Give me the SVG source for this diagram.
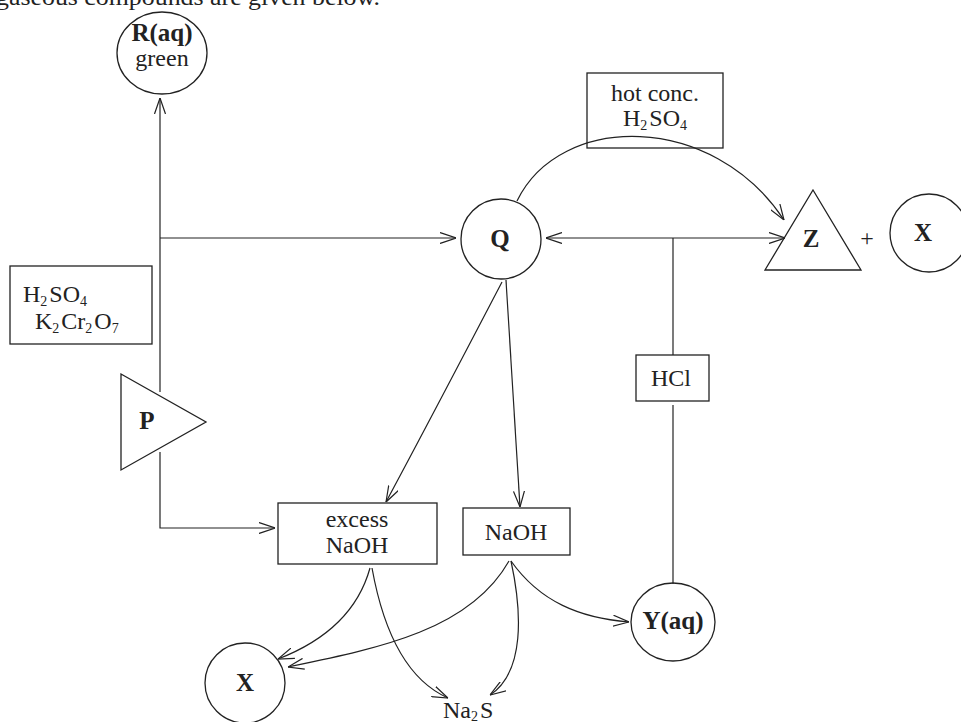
<svg xmlns="http://www.w3.org/2000/svg" width="961" height="722" viewBox="0 0 961 722">
<defs>
<marker id="arr" viewBox="0 0 16 12" refX="16" refY="6" markerWidth="16" markerHeight="12" markerUnits="userSpaceOnUse" orient="auto-start-reverse">
<path d="M0,0.5 L16,6 L0,11.5" fill="none" stroke="#222" stroke-width="1.2"/>
</marker>
<style>
text{font-family:"Liberation Serif","Times New Roman",serif;fill:#222;font-size:24px}
.b{font-weight:bold;font-size:25px}
.m{text-anchor:middle}
.s{font-size:14px}
.shape{fill:none;stroke:#222;stroke-width:1.3}
.c{fill:none;stroke:#222;stroke-width:1.2}
.a{fill:none;stroke:#222;stroke-width:1.2;marker-end:url(#arr)}
</style>
</defs>
<rect width="961" height="722" fill="#fff"/>
<text x="-4" y="5" font-size="26" textLength="384" lengthAdjust="spacingAndGlyphs">gaseous compounds are given below.</text>

<g id="connectors">
<path class="a" d="M160,392 L160,98"/>
<path class="a" d="M160,238 L456,238"/>
<path class="a" d="M160,452 L160,528 L275,528"/>
<path class="a" d="M517,201 C560,112 713,112 784,220"/>
<path class="a" d="M546,238 L785,238" style="marker-start:url(#arr)"/>
<path class="c" d="M673,238 L673,355"/>
<path class="c" d="M673,405 L673,584"/>
<path class="a" d="M502,282 Q430,420 386,502"/>
<path class="a" d="M506,280 L520,507"/>
<path class="a" d="M370,568 C357,615 322,642 278,659"/>
<path class="a" d="M372,568 C385,640 412,682 448,698"/>
<path class="a" d="M509,561 C470,630 380,648 288,667"/>
<path class="a" d="M511,561 C522,612 525,672 490,695"/>
<path class="a" d="M511,561 C540,602 580,618 629,622"/>
</g>

<g id="R">
<ellipse class="shape" cx="162" cy="53" rx="45" ry="41"/>
<text class="b m" x="162" y="41" font-size="22">R(aq)</text>
<text class="m" x="162" y="66" font-size="22">green</text>
</g>

<g id="reagent-dichromate">
<rect class="shape" x="10" y="266" width="142" height="78"/>
<text x="23" y="302">H<tspan class="s" dy="4">2</tspan><tspan dx="2" dy="-4">SO</tspan><tspan class="s" dy="4">4</tspan></text>
<text x="35" y="329">K<tspan class="s" dy="4">2</tspan><tspan dx="2" dy="-4">Cr</tspan><tspan class="s" dy="4">2</tspan><tspan dx="2" dy="-4">O</tspan><tspan class="s" dy="4">7</tspan></text>
</g>

<g id="P">
<polygon class="shape" points="121,374 206,422 121,470"/>
<text class="b m" x="147" y="429">P</text>
</g>

<g id="Q">
<circle class="shape" cx="501" cy="239" r="40"/>
<text class="b m" x="500" y="247">Q</text>
</g>

<g id="reagent-hot-conc">
<rect class="shape" x="587" y="73" width="136" height="75"/>
<text class="m" x="655" y="101">hot conc.</text>
<text x="623" y="126">H<tspan class="s" dy="4">2</tspan><tspan dx="2" dy="-4">SO</tspan><tspan class="s" dy="4">4</tspan></text>
</g>

<g id="Z">
<polygon class="shape" points="813,190 861,270 765,270"/>
<text class="b m" x="811" y="247">Z</text>
</g>

<text class="m" x="867" y="246">+</text>

<g id="X-top">
<circle class="shape" cx="929" cy="233" r="39"/>
<text class="b m" x="923" y="241">X</text>
</g>

<g id="reagent-HCl">
<rect class="shape" x="636" y="355" width="73" height="46"/>
<text class="m" x="671" y="386">HCl</text>
</g>

<g id="excess-NaOH">
<rect class="shape" x="278" y="503" width="159" height="61"/>
<text class="m" x="357" y="527">excess</text>
<text class="m" x="357" y="553">NaOH</text>
</g>

<g id="NaOH">
<rect class="shape" x="463" y="508" width="107" height="47"/>
<text class="m" x="516" y="540">NaOH</text>
</g>

<g id="Y">
<ellipse class="shape" cx="673" cy="622" rx="42" ry="39"/>
<text class="b m" x="673" y="629" font-size="24">Y(aq)</text>
</g>

<g id="X-bottom">
<circle class="shape" cx="245" cy="683" r="40"/>
<text class="b m" x="245" y="691">X</text>
</g>

<g id="Na2S">
<text x="443" y="718">Na<tspan class="s" dy="3">2</tspan><tspan dx="2" dy="-3">S</tspan></text>
</g>
</svg>
